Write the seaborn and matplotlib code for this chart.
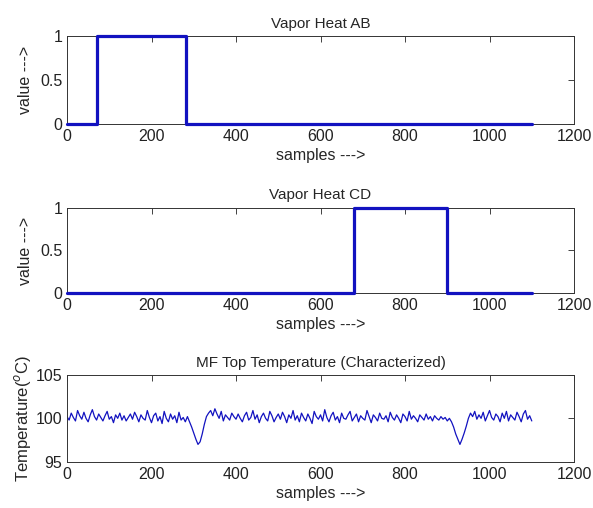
import numpy as np
import pandas as pd
import matplotlib
matplotlib.use("Agg")
import matplotlib.pyplot as plt
import seaborn as sns

# switch events for the two vapor heaters (sample, value)
ab_samples = [0, 71, 71, 282, 282, 1100]
ab_values = [0, 0, 1, 1, 0, 0]
cd_samples = [0, 679, 679, 899, 899, 1100]
cd_values = [0, 0, 1, 1, 0, 0]

# MF top temperature, every 5 samples
temp_samples = np.arange(0, 1101, 5)
temp_values = [
    100.2, 99.8, 100.6, 100.1, 99.7, 100.9, 100.3, 99.9, 100.7, 100.0,
    99.6, 100.4, 101.0, 100.2, 99.8, 100.5, 100.1, 99.7, 100.3, 100.8,
    99.9, 100.2, 99.5, 100.4, 100.0, 100.6, 99.8, 100.3, 99.7, 100.1,
    100.5, 99.9, 100.7, 100.2, 99.6, 100.4, 100.0, 99.8, 100.9, 100.1,
    99.5, 100.3, 100.6, 99.7, 100.2, 99.4, 100.8, 100.0, 99.6, 100.5,
    99.9, 100.3, 99.5, 100.7, 99.8, 100.1, 99.6, 100.2,
    # first dip
    99.6, 99.0, 98.3, 97.6, 97.0, 97.3, 98.2, 99.3, 100.2, 100.6,
    100.9, 100.3, 101.1, 100.5, 100.0, 100.8, 99.7, 100.4, 100.1, 99.8,
    100.6, 100.2, 99.9, 100.5, 100.0, 99.6, 100.3, 100.7, 99.8, 100.1,
    100.9, 99.9, 100.4, 99.5, 100.2, 100.6, 100.0, 99.7, 100.8, 100.3,
    99.6, 100.1, 100.5, 99.9, 100.7, 100.2, 99.5, 100.4, 100.0, 100.9,
    99.8, 100.3, 99.6, 100.6, 100.1, 99.7, 100.5, 100.0, 99.4, 100.8,
    100.2, 99.9, 100.4, 99.7, 101.0, 100.1, 99.6, 100.3, 100.7, 99.8,
    100.2, 99.5, 100.6, 100.0, 99.9, 100.4, 100.8, 99.7, 100.1, 100.5,
    99.6, 100.3, 100.0, 99.8, 100.9, 100.2, 99.5, 100.4, 100.1, 99.7,
    100.6, 100.0, 99.9, 100.3, 99.6, 100.7, 100.1, 99.8, 100.4, 100.0,
    99.5, 100.5, 100.2, 99.7, 100.8, 99.9, 100.3, 100.0, 99.6, 100.4,
    100.1, 99.8, 100.5, 99.9, 100.2, 99.7, 100.3, 100.0, 99.8, 100.2,
    99.9, 100.1, 99.7, 100.0, 99.6,
    # second dip
    99.0, 98.2, 97.6, 97.0, 97.6, 98.3, 99.1, 100.0,
    100.6, 100.2, 100.8, 99.9, 100.4, 100.0, 100.7, 99.7, 100.3, 100.9,
    100.1, 99.8, 100.5, 100.2, 99.6, 100.6, 100.0, 100.8, 99.7, 100.4,
    100.1, 99.8, 100.7, 100.2, 99.6, 100.5, 100.9, 99.9, 100.3, 99.7,
]

x_ticks = [0, 200, 400, 600, 800, 1000, 1200]

ab = pd.DataFrame({'samples': ab_samples, 'value': ab_values})
cd = pd.DataFrame({'samples': cd_samples, 'value': cd_values})
temp = pd.DataFrame({'samples': temp_samples, 'temp': temp_values})

sns.set_style('white')
plt.rcParams['font.family'] = ['Liberation Sans', 'DejaVu Sans']
plt.rcParams['xtick.direction'] = 'in'
plt.rcParams['ytick.direction'] = 'in'
plt.rcParams['xtick.top'] = True
plt.rcParams['ytick.right'] = True

blue = '#1212c0'
fig = plt.figure(figsize=(5.93, 5.08), dpi=100)
ax1 = fig.add_axes([0.113, 0.756, 0.855, 0.173])
ax2 = fig.add_axes([0.113, 0.423, 0.855, 0.168])
ax3 = fig.add_axes([0.113, 0.091, 0.855, 0.171])

sns.lineplot(data=ab, x='samples', y='value', sort=False, estimator=None,
             color=blue, linewidth=2.3, ax=ax1, clip_on=False, zorder=3)
sns.lineplot(data=cd, x='samples', y='value', sort=False, estimator=None,
             color=blue, linewidth=2.3, ax=ax2, clip_on=False, zorder=3)
sns.lineplot(data=temp, x='samples', y='temp', sort=False, estimator=None,
             color=blue, linewidth=0.9, ax=ax3)

for ax, title in [(ax1, 'Vapor Heat AB'), (ax2, 'Vapor Heat CD')]:
    ax.set_ylim(0, 1)
    ax.set_yticks([0, 0.5, 1])
    ax.set_yticklabels(['0', '0.5', '1'])
    ax.set_ylabel('value --->', fontsize=11.5, labelpad=5)
    ax.set_title(title, fontsize=11, pad=6)

ax3.set_ylim(95, 105)
ax3.set_yticks([95, 100, 105])
ax3.set_ylabel('Temperature($^o$C)', fontsize=12, labelpad=2)
ax3.set_title('MF Top Temperature (Characterized)', fontsize=11, pad=6)

for ax in [ax1, ax2, ax3]:
    ax.set_xlim(0, 1200)
    ax.set_xticks(x_ticks)
    ax.set_xlabel('samples --->', fontsize=11.5, labelpad=3)
    ax.tick_params(labelsize=11.5, length=4, width=0.6, colors='#222222')
    for s in ax.spines.values():
        s.set_linewidth(0.7)
        s.set_color('#333333')

fig.savefig('out.png', dpi=100)
